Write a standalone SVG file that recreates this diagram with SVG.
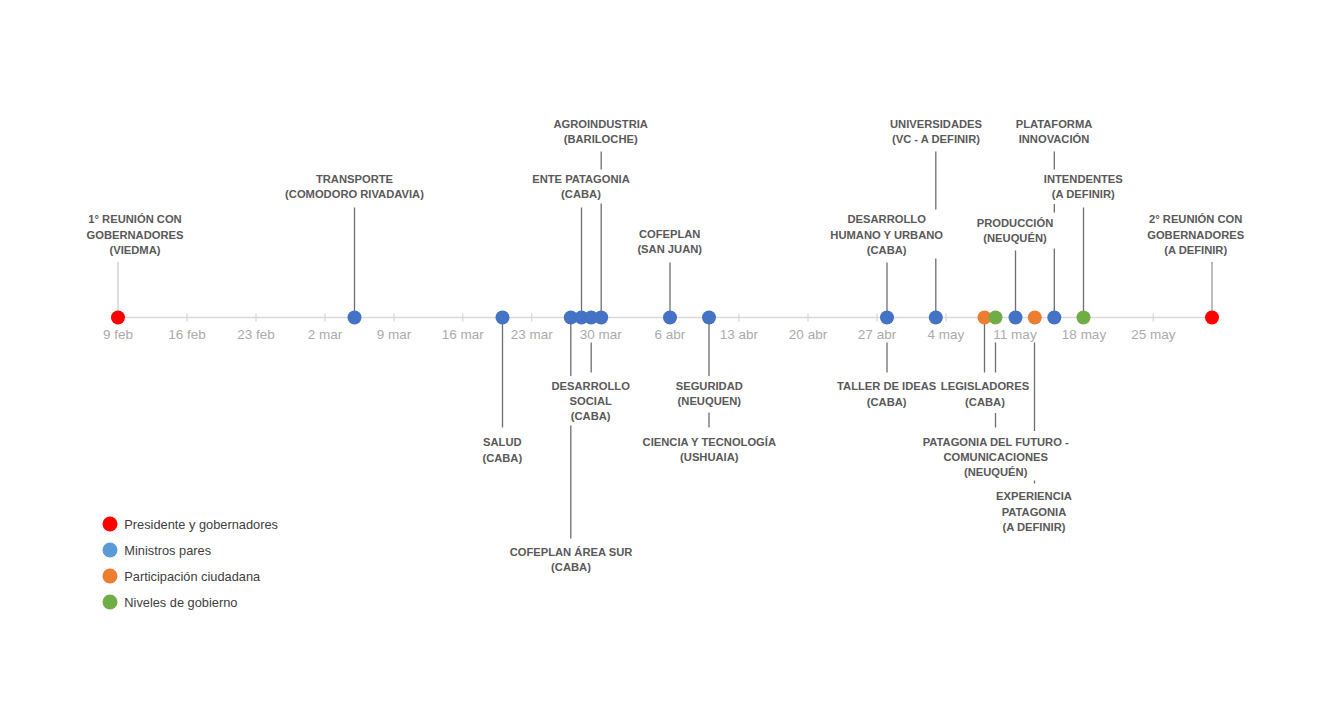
<svg xmlns="http://www.w3.org/2000/svg" width="1329" height="706" viewBox="0 0 1329 706">
<style>
.lbl{font-family:"Liberation Sans",Arial,sans-serif;font-weight:bold;font-size:11.2px;fill:#595959;text-anchor:middle}
.ax{font-family:"Liberation Sans",Arial,sans-serif;font-size:13.5px;fill:#ababab;text-anchor:middle}
.leg{font-family:"Liberation Sans",Arial,sans-serif;font-size:12.8px;fill:#404040}
.ld{stroke:#6e6e6e;stroke-width:1.3;fill:none}
.tick{stroke:#d9d9d9;stroke-width:1.3}
.red{fill:#ff0000}.blue{fill:#4472c4}.orange{fill:#ed7d31}.green{fill:#70ad47}
</style>
<rect width="1329" height="706" fill="#ffffff"/>
<g id="axis">
<line x1="118" y1="317.5" x2="1212" y2="317.5" stroke="#d9d9d9" stroke-width="1.5"/>
<path class="tick" d="M187,313.5v8M256,313.5v8M325,313.5v8M394,313.5v8M462.7,313.5v8M531.7,313.5v8M600.8,313.5v8M669.9,313.5v8M738.9,313.5v8M808,313.5v8M877,313.5v8M946,313.5v8M1015,313.5v8M1084,313.5v8M1153.3,313.5v8"/>
<text class="ax" x="118" y="339">9 feb</text>
<text class="ax" x="187" y="339">16 feb</text>
<text class="ax" x="256" y="339">23 feb</text>
<text class="ax" x="325" y="339">2 mar</text>
<text class="ax" x="394" y="339">9 mar</text>
<text class="ax" x="462.7" y="339">16 mar</text>
<text class="ax" x="531.7" y="339">23 mar</text>
<text class="ax" x="600.8" y="339">30 mar</text>
<text class="ax" x="669.9" y="339">6 abr</text>
<text class="ax" x="738.9" y="339">13 abr</text>
<text class="ax" x="808" y="339">20 abr</text>
<text class="ax" x="877" y="339">27 abr</text>
<text class="ax" x="946" y="339">4 may</text>
<text class="ax" x="1015" y="339">11 may</text>
<text class="ax" x="1084" y="339">18 may</text>
<text class="ax" x="1153.3" y="339">25 may</text>
</g>
<g id="connectors">
<line x1="118" y1="262" x2="118" y2="317" stroke="#cccccc" stroke-width="1.3"/>
<line x1="1212" y1="262" x2="1212" y2="317" stroke="#9a9a9a" stroke-width="1.3"/>
<path class="ld" d="M354.5,207.5V317"/>
<path class="ld" d="M601.2,151.5V169.5M601.2,203.5V317"/>
<path class="ld" d="M581.5,207.5V317"/>
<path class="ld" d="M670,262.5V317"/>
<path class="ld" d="M887,262.5V317"/>
<path class="ld" d="M935.8,151.5V209.5M935.8,258.5V317"/>
<path class="ld" d="M1054.3,151.5V169.5M1054.3,204V212.5M1054.3,248.5V317"/>
<path class="ld" d="M1083.5,207.5V317"/>
<path class="ld" d="M1015.5,250.5V317"/>
<path class="ld" d="M502.5,317V427.5"/>
<path class="ld" d="M570.8,317V376M570.8,425.5V538.5"/>
<path class="ld" d="M591.2,342.5V372.5"/>
<path class="ld" d="M709,317V376M709,412.5V427.5"/>
<path class="ld" d="M887,342.5V372.5"/>
<path class="ld" d="M984.5,317V372.5"/>
<path class="ld" d="M995.5,342.5V372.5M995.5,413V427.5"/>
<path class="ld" d="M1034.5,342.5V431M1034.5,480.5V483.5"/>
</g>
<g id="dots">
<circle class="red" cx="118" cy="317.5" r="7"/>
<circle class="blue" cx="354.5" cy="317.5" r="7"/>
<circle class="blue" cx="502.5" cy="317.5" r="7"/>
<circle class="blue" cx="570.8" cy="317.5" r="7"/>
<circle class="blue" cx="581.5" cy="317.5" r="7"/>
<circle class="blue" cx="591.2" cy="317.5" r="7"/>
<circle class="blue" cx="601.2" cy="317.5" r="7"/>
<circle class="blue" cx="670" cy="317.5" r="7"/>
<circle class="blue" cx="709" cy="317.5" r="7"/>
<circle class="blue" cx="887" cy="317.5" r="7"/>
<circle class="blue" cx="935.8" cy="317.5" r="7"/>
<circle class="orange" cx="984.5" cy="317.5" r="7"/>
<circle class="green" cx="995.5" cy="317.5" r="7"/>
<circle class="blue" cx="1015.5" cy="317.5" r="7"/>
<circle class="orange" cx="1034.8" cy="317.5" r="7"/>
<circle class="blue" cx="1054.3" cy="317.5" r="7"/>
<circle class="green" cx="1083.5" cy="317.5" r="7"/>
<circle class="red" cx="1212" cy="317.5" r="7"/>
</g>
<g id="n-reunion1"><text class="lbl" x="135" y="223.3">1° REUNIÓN CON</text><text class="lbl" x="135" y="238.5">GOBERNADORES</text><text class="lbl" x="135" y="253.5">(VIEDMA)</text></g>
<g id="n-transporte"><text class="lbl" x="354.5" y="183">TRANSPORTE</text><text class="lbl" x="354.5" y="198">(COMODORO RIVADAVIA)</text></g>
<g id="n-agroindustria"><text class="lbl" x="600.7" y="128">AGROINDUSTRIA</text><text class="lbl" x="600.7" y="143.3">(BARILOCHE)</text></g>
<g id="n-ente"><text class="lbl" x="581" y="183">ENTE PATAGONIA</text><text class="lbl" x="581" y="198">(CABA)</text></g>
<g id="n-cofeplan-sj"><text class="lbl" x="669.7" y="238.3">COFEPLAN</text><text class="lbl" x="669.7" y="253.3">(SAN JUAN)</text></g>
<g id="n-des-humano"><text class="lbl" x="886.7" y="223.3">DESARROLLO</text><text class="lbl" x="886.7" y="238.6">HUMANO Y URBANO</text><text class="lbl" x="886.7" y="253.7">(CABA)</text></g>
<g id="n-universidades"><text class="lbl" x="936" y="128">UNIVERSIDADES</text><text class="lbl" x="936" y="143">(VC - A DEFINIR)</text></g>
<g id="n-plataforma"><text class="lbl" x="1054" y="128">PLATAFORMA</text><text class="lbl" x="1054" y="143">INNOVACIÓN</text></g>
<g id="n-intendentes"><text class="lbl" x="1083.3" y="183">INTENDENTES</text><text class="lbl" x="1083.3" y="198">(A DEFINIR)</text></g>
<g id="n-produccion"><text class="lbl" x="1015" y="226.7">PRODUCCIÓN</text><text class="lbl" x="1015" y="242.3">(NEUQUÉN)</text></g>
<g id="n-reunion2"><text class="lbl" x="1195.7" y="223.3">2° REUNIÓN CON</text><text class="lbl" x="1195.7" y="238.6">GOBERNADORES</text><text class="lbl" x="1195.7" y="253.7">(A DEFINIR)</text></g>
<g id="n-salud"><text class="lbl" x="502.3" y="445.7">SALUD</text><text class="lbl" x="502.3" y="461.5">(CABA)</text></g>
<g id="n-des-social"><text class="lbl" x="590.7" y="390">DESARROLLO</text><text class="lbl" x="590.7" y="405.3">SOCIAL</text><text class="lbl" x="590.7" y="420.3">(CABA)</text></g>
<g id="n-cofeplan-sur"><text class="lbl" x="571" y="555.7">COFEPLAN ÁREA SUR</text><text class="lbl" x="571" y="571.3">(CABA)</text></g>
<g id="n-seguridad"><text class="lbl" x="709.3" y="390">SEGURIDAD</text><text class="lbl" x="709.3" y="405.3">(NEUQUEN)</text></g>
<g id="n-ciencia"><text class="lbl" x="709.3" y="445.7">CIENCIA Y TECNOLOGÍA</text><text class="lbl" x="709.3" y="461.3">(USHUAIA)</text></g>
<g id="n-taller"><text class="lbl" x="886.7" y="390">TALLER DE IDEAS</text><text class="lbl" x="886.7" y="405.7">(CABA)</text></g>
<g id="n-legisladores"><text class="lbl" x="985" y="390">LEGISLADORES</text><text class="lbl" x="985" y="405.7">(CABA)</text></g>
<g id="n-patagonia-futuro"><text class="lbl" x="995.7" y="445.7">PATAGONIA DEL FUTURO -</text><text class="lbl" x="995.7" y="461">COMUNICACIONES</text><text class="lbl" x="995.7" y="476.3">(NEUQUÉN)</text></g>
<g id="n-experiencia"><text class="lbl" x="1034" y="500">EXPERIENCIA</text><text class="lbl" x="1034" y="515.7">PATAGONIA</text><text class="lbl" x="1034" y="530.7">(A DEFINIR)</text></g>
<g id="legend">
<circle cx="110" cy="524" r="7.5" fill="#ff0000"/><text class="leg" x="124.3" y="528.5">Presidente y gobernadores</text>
<circle cx="110" cy="550" r="7.5" fill="#5b9bd5"/><text class="leg" x="124.3" y="554.5">Ministros pares</text>
<circle cx="110" cy="576" r="7.5" fill="#ed7d31"/><text class="leg" x="124.3" y="580.5">Participación ciudadana</text>
<circle cx="110" cy="602" r="7.5" fill="#70ad47"/><text class="leg" x="124.3" y="606.5">Niveles de gobierno</text>
</g>
</svg>
